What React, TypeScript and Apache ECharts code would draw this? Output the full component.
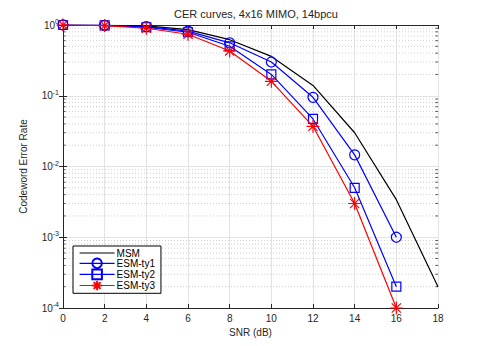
import React, { useEffect, useRef } from "react";
import * as echarts from "echarts";

const snr = [0, 2, 4, 6, 8, 10, 12, 14, 16, 18];
const msm = [1, 0.99, 0.97, 0.86, 0.62, 0.36, 0.14, 0.03, 0.0034, 0.0002];
const esm1 = [1, 0.99, 0.95, 0.82, 0.56, 0.3, 0.095, 0.0146, 0.001];
const esm2 = [1, 0.99, 0.93, 0.79, 0.5, 0.2, 0.047, 0.005, 0.0002];
const esm3 = [1, 0.98, 0.9, 0.74, 0.43, 0.16, 0.037, 0.003, 0.0001];
const minorValues: number[] = [];
for (let e = -4; e < 0; e++) for (let m = 2; m <= 9; m++) minorValues.push(m * Math.pow(10, e));

const FONT = "'Liberation Sans', Arial, Helvetica, sans-serif";
const TXT = "#262626";
const STAR = "path://M0,-10L0,10M-10,0L10,0M-7.07,-7.07L7.07,7.07M-7.07,7.07L7.07,-7.07";

const pairs = (ys: number[]) => ys.map((y, i) => [snr[i], y]);

export default function App() {
  const ref = useRef<HTMLDivElement>(null);
  useEffect(() => {
    document.body.style.margin = "0";
    if (!ref.current) return;
    const chart = echarts.init(ref.current, undefined, { renderer: "svg" });
    const yLabel = (v: number) => `{b|10}{s|${Math.round(Math.log10(v))}}`;
    chart.setOption({
      animation: false,
      backgroundColor: "#fff",
      textStyle: { fontFamily: FONT },
      title: {
        text: "CER curves, 4x16 MIMO, 14bpcu",
        left: 251,
        textAlign: "center",
        top: 3,
        textStyle: { fontSize: 11, fontWeight: "normal", color: TXT, fontFamily: FONT },
      },
      grid: { left: 63, right: 47, top: 25, bottom: 38, containLabel: false },
      legend: {
        data: ["MSM", "ESM-ty1", "ESM-ty2", "ESM-ty3"],
        orient: "vertical",
        left: 73,
        top: 246,
        itemWidth: 35,
        itemHeight: 12,
        itemGap: -0.5,
        padding: [2, 6, 2, 6],
        borderColor: "#000",
        borderWidth: 1,
        backgroundColor: "#fff",
        lineStyle: { width: 1.2 },
        textStyle: { fontSize: 10, color: "#000", fontFamily: FONT, padding: [0, 0, 0, -3] },
        z: 10,
      },
      xAxis: [
        {
          type: "value",
          min: 0,
          max: 18,
          interval: 2,
          name: "SNR (dB)",
          nameLocation: "middle",
          nameGap: 14,
          nameTextStyle: { fontSize: 10, color: TXT, fontFamily: FONT },
          axisLine: { lineStyle: { color: TXT, width: 1 } },
          axisTick: { inside: true, length: 4, lineStyle: { color: TXT } },
          axisLabel: { fontSize: 10, color: TXT, margin: 5, fontFamily: FONT },
          splitLine: { show: true, lineStyle: { color: "#e3e3e3", width: 1 } },
        },
        {
          type: "value",
          position: "top",
          min: 0,
          max: 18,
          interval: 2,
          axisLine: { show: true, lineStyle: { color: TXT, width: 1 } },
          axisTick: { show: true, inside: true, length: 4, lineStyle: { color: TXT } },
          axisLabel: { show: false },
          splitLine: { show: false },
        },
      ],
      yAxis: [
        {
          type: "log",
          min: 1e-4,
          max: 1,
          logBase: 10,
          name: "Codeword Error Rate",
          nameLocation: "middle",
          nameGap: 35,
          nameTextStyle: { fontSize: 10, color: TXT, fontFamily: FONT },
          axisLine: { show: true, lineStyle: { color: TXT, width: 1 } },
          axisTick: { show: true, inside: true, length: 4, lineStyle: { color: TXT } },
          axisLabel: {
            margin: 4,
            formatter: yLabel,
            rich: {
              b: { fontSize: 10, color: TXT, fontFamily: FONT },
              s: { fontSize: 7, color: TXT, fontFamily: FONT, padding: [0, 0, 7, 0] },
            },
          },
          splitLine: { show: true, lineStyle: { color: "#e3e3e3", width: 1 } },
        },
        {
          type: "log",
          min: 1e-4,
          max: 1,
          logBase: 10,
          position: "right",
          axisLine: { show: true, lineStyle: { color: TXT, width: 1 } },
          axisTick: { show: true, inside: true, length: 4, lineStyle: { color: TXT } },
          axisLabel: { show: false },
          splitLine: { show: false },
        },
      ],
      series: [
        {
          type: "custom",
          name: "minor",
          silent: true,
          z: 0,
          xAxisIndex: 0,
          yAxisIndex: 0,
          data: minorValues.map((v) => [0, v]),
          renderItem: (params: any, api: any) => {
            const v = api.value(1);
            const p0 = api.coord([0, v]);
            const p1 = api.coord([18, v]);
            return {
              type: "group",
              children: [
                {
                  type: "line",
                  shape: { x1: p0[0], y1: p0[1], x2: p1[0], y2: p1[1] },
                  style: { stroke: "#cfcfcf", lineWidth: 1, lineDash: [1, 2] },
                },
                {
                  type: "line",
                  shape: { x1: p0[0], y1: p0[1], x2: p0[0] + 2.5, y2: p0[1] },
                  style: { stroke: TXT, lineWidth: 0.8 },
                },
                {
                  type: "line",
                  shape: { x1: p1[0] - 2.5, y1: p1[1], x2: p1[0], y2: p1[1] },
                  style: { stroke: TXT, lineWidth: 0.8 },
                },
              ],
            };
          },
        },
        {
          type: "line",
          name: "MSM",
          data: pairs(msm),
          symbol: "none",
          lineStyle: { color: "#000", width: 1.2 },
          itemStyle: { color: "transparent", borderWidth: 0 },
          z: 3,
        },
        {
          type: "line",
          name: "ESM-ty1",
          data: pairs(esm1),
          symbol: "circle",
          symbolSize: 10,
          lineStyle: { color: "#0000ff", width: 1.2 },
          itemStyle: { color: "transparent", borderColor: "#0000ff", borderWidth: 1.2 },
          z: 4,
        },
        {
          type: "line",
          name: "ESM-ty2",
          data: pairs(esm2),
          symbol: "rect",
          symbolSize: 9,
          lineStyle: { color: "#0000ff", width: 1.2 },
          itemStyle: { color: "transparent", borderColor: "#0000ff", borderWidth: 1.2 },
          z: 4,
        },
        {
          type: "line",
          name: "ESM-ty3",
          data: pairs(esm3),
          symbol: STAR,
          symbolSize: 13,
          lineStyle: { color: "#ff0000", width: 1.2 },
          itemStyle: { color: "transparent", borderColor: "#ff0000", borderWidth: 1.2 },
          z: 5,
        },
      ],
    });
    return () => chart.dispose();
  }, []);
  return <div ref={ref} style={{ width: 485, height: 346 }} />;
}
